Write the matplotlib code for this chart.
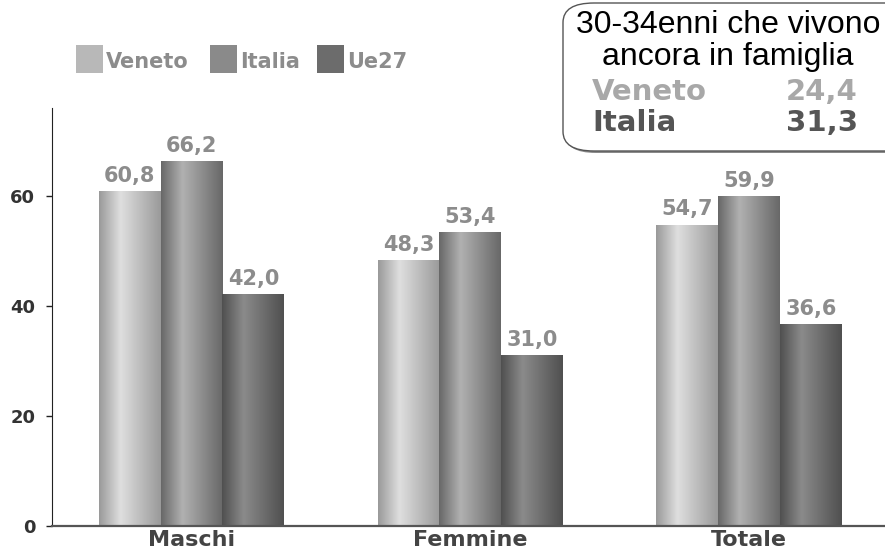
import numpy as np
import matplotlib.pyplot as plt
from matplotlib.colors import LinearSegmentedColormap
from matplotlib.patches import FancyBboxPatch, Rectangle

# data
groups = ['Maschi', 'Femmine', 'Totale']
series = ['Veneto', 'Italia', 'Ue27']
veneto = [60.8, 48.3, 54.7]
italia = [66.2, 53.4, 59.9]
ue27 = [42.0, 31.0, 36.6]
box_labels = ['Veneto', 'Italia']
box_values = [24.4, 31.3]

values = [veneto, italia, ue27]

# cylinder-like gray shading for each series (edge, highlight)
shades = [('#9a9a9a', '#dedede'), ('#686868', '#b0b0b0'), ('#505050', '#8a8a8a')]
flat = ['#b8b8b8', '#8a8a8a', '#6c6c6c']

def fmt(v):
    return ('%.1f' % v).replace('.', ',')

fig = plt.figure(figsize=(8.85, 5.56), dpi=100)
ax = fig.add_axes([0.0588, 0.054, 0.941, 0.752])

x = np.arange(len(groups))
w = 0.222
grad = np.concatenate([np.linspace(0, 1, 35), np.linspace(1, 0, 65)])[None, :]

for i, vals in enumerate(values):
    cmap = LinearSegmentedColormap.from_list('c%d' % i, list(shades[i]))
    pos = x + (i - 1) * w
    bars = ax.bar(pos, vals, w, color=flat[i], linewidth=0, zorder=1)
    for b, v in zip(bars, vals):
        x0 = b.get_x()
        ax.imshow(grad, cmap=cmap, aspect='auto', extent=(x0, x0 + w, 0, v),
                  zorder=2, interpolation='bilinear')
        ax.annotate(fmt(v), (x0 + w / 2, v), xytext=(0, 4), textcoords='offset points',
                    ha='center', va='bottom', fontsize=15, fontweight='bold',
                    color='#8c8c8c')

ax.set_xlim(-0.50, 2.486)
ax.set_ylim(0, 76)
ax.set_yticks([0, 20, 40, 60])
ax.set_xticks(x)
ax.set_xticklabels(groups, fontsize=16, fontweight='bold', color='#444444')
for t in ax.get_yticklabels():
    t.set_fontsize(13)
    t.set_fontweight('bold')
    t.set_color('#333333')
ax.tick_params(axis='x', length=0, pad=3)
ax.tick_params(axis='y', length=4, width=1, color='#222222', pad=8)
ax.spines['top'].set_visible(False)
ax.spines['right'].set_visible(False)
ax.spines['left'].set_color('#222222')
ax.spines['bottom'].set_color('#555555')
ax.spines['bottom'].set_linewidth(1.6)
ax.spines['bottom'].set_zorder(5)

# legend
lx = [76, 210, 317]
for i, name in enumerate(series):
    fig.patches.append(Rectangle((lx[i] / 885, 1 - 73 / 556), 27 / 885, 28 / 556,
                                 transform=fig.transFigure, facecolor=flat[i],
                                 edgecolor='none'))
    fig.text((lx[i] + 30) / 885, 1 - 62 / 556, name, fontsize=15, fontweight='bold',
             color='#8c8c8c', va='center')

# inset box with shadow
fig.patches.append(FancyBboxPatch((565 / 885, 1 - 153 / 556), 400 / 885, 150 / 556,
                                  boxstyle='round,pad=0,rounding_size=0.035',
                                  transform=fig.transFigure, facecolor='#8a8a8a',
                                  edgecolor='none', zorder=9))
fig.patches.append(FancyBboxPatch((563 / 885, 1 - 151 / 556), 400 / 885, 148 / 556,
                                  boxstyle='round,pad=0,rounding_size=0.035',
                                  transform=fig.transFigure, facecolor='white',
                                  edgecolor='#555555', linewidth=1.0, zorder=10))
fig.text(728 / 885, 1 - 65 / 556, '30-34enni che vivono\nancora in famiglia',
         ha='center', va='baseline', multialignment='center', fontsize=23,
         linespacing=1.08, family='Liberation Sans', color='black', zorder=11)
box_colors = ['#a8a8a8', '#555555']
for j, (lab, val) in enumerate(zip(box_labels, box_values)):
    yy = 1 - (92 + 31 * j) / 556
    fig.text(592 / 885, yy, lab, fontsize=21, fontweight='bold', color=box_colors[j],
             va='center', zorder=11)
    fig.text(858 / 885, yy, fmt(val), fontsize=21, fontweight='bold',
             color=box_colors[j], va='center', ha='right', zorder=11)

fig.savefig('out.png', dpi=100)
